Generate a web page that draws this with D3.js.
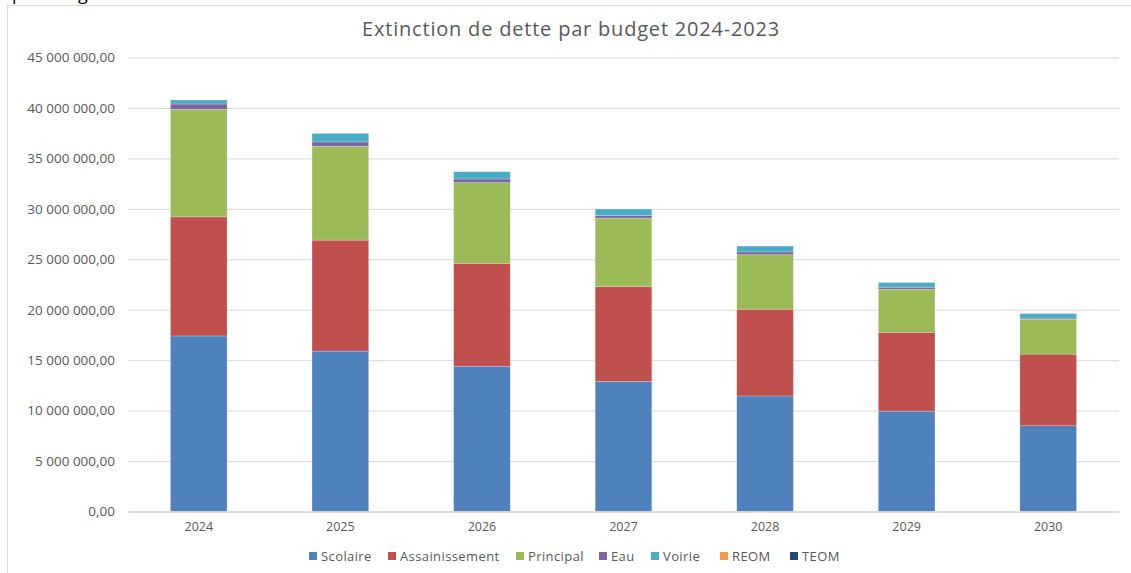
<!DOCTYPE html>
<html>
<head>
<meta charset="utf-8">
<script src="https://cdn.jsdelivr.net/npm/d3@7"></script>
<style>
  html, body { margin: 0; padding: 0; background: #fff; }
  svg { display: block; }
  text { font-family: "Open Sans", "Noto Sans", sans-serif; }
</style>
</head>
<body>
<svg id="chart" width="1131" height="573"></svg>
<script>
// Years on the category axis
const years = ["2024", "2025", "2026", "2027", "2028", "2029", "2030"];

// Budget names, in stacking order
const budgets = ["Scolaire", "Assainissement", "Principal", "Eau", "Voirie", "REOM", "TEOM"];
const budgetColors = ["#4F81BD", "#C0504D", "#9BBB59", "#8064A2", "#4BACC6", "#F79646", "#1F497D"];

// Outstanding debt per budget and year (euros)
const scolaire       = [17400000, 15900000, 14400000, 12900000, 11450000, 9950000, 8500000];
const assainissement = [11800000, 11000000, 10200000, 9400000, 8600000, 7810000, 7100000];
const principal      = [10660000, 9300000, 8000000, 6780000, 5400000, 4270000, 3450000];
const eau            = [530000, 430000, 360000, 250000, 280000, 200000, 120000];
const voirie         = [400000, 850000, 720000, 650000, 580000, 460000, 450000];
const reom           = [0, 0, 0, 0, 0, 0, 0];
const teom           = [0, 0, 0, 0, 0, 0, 0];

// Value axis ticks
const yTicks = [0, 5000000, 10000000, 15000000, 20000000, 25000000, 30000000, 35000000, 40000000, 45000000];

const title = "Extinction de dette par budget 2024-2023";

const seriesValues = [scolaire, assainissement, principal, eau, voirie, reom, teom];
const rows = years.map((y, i) => {
  const r = { year: y };
  budgets.forEach((b, k) => { r[b] = seriesValues[k][i]; });
  return r;
});

const svg = d3.select("#chart");
const W = 1131, H = 573;

// Line of surrounding document text, running just above the chart frame
svg.append("text")
  .attr("x", 12).attr("y", -0.5)
  .attr("font-family", "Liberation Sans, Arial, sans-serif")
  .attr("font-size", 18)
  .attr("fill", "#000")
  .text("par budget");

// Chart frame
svg.append("rect")
  .attr("x", 7.5).attr("y", 5.5)
  .attr("width", W + 20).attr("height", H + 20)
  .attr("fill", "#fff")
  .attr("stroke", "#D9D9D9").attr("stroke-width", 1);

const plot = { left: 128, right: 1119, top: 57.5, bottom: 511.5 };

const x = d3.scaleBand()
  .domain(years)
  .range([plot.left, plot.right])
  .paddingInner(0.6)
  .paddingOuter(0.3);

const y = d3.scaleLinear()
  .domain([0, 45000000])
  .range([plot.bottom, plot.top]);

const fr = d3.formatLocale({ decimal: ",", thousands: "\u00a0", grouping: [3], currency: ["", " €"] });
const fmt = fr.format(",.2f");

// Gridlines and value labels
const yAxis = d3.axisLeft(y)
  .tickValues(yTicks)
  .tickSize(-(plot.right - plot.left))
  .tickPadding(13)
  .tickFormat(fmt);

const gy = svg.append("g")
  .attr("transform", `translate(${plot.left},0)`)
  .call(yAxis);
gy.select(".domain").remove();
gy.selectAll(".tick line").attr("stroke", "#D9D9D9").attr("stroke-width", 1);
gy.selectAll(".tick text")
  .attr("fill", "#595959")
  .attr("font-size", 13.5)
  .attr("font-family", "Open Sans, sans-serif");

// Stacked bars
const stack = d3.stack().keys(budgets);
const layers = stack(rows);

svg.append("g").selectAll("g")
  .data(layers)
  .join("g")
    .attr("fill", (d, i) => budgetColors[i])
  .selectAll("rect")
  .data(d => d)
  .join("rect")
    .attr("x", d => x(d.data.year))
    .attr("width", x.bandwidth())
    .attr("y", d => y(d[1]))
    .attr("height", d => Math.max(0, y(d[0]) - y(d[1])))
    .attr("stroke", "rgba(255,255,255,0.35)")
    .attr("stroke-width", 0.6);

// Category axis
const xAxis = d3.axisBottom(x).tickSize(0).tickPadding(11);
const gx = svg.append("g")
  .attr("transform", `translate(0,${plot.bottom})`)
  .call(xAxis);
gx.select(".domain").attr("stroke", "#D9D9D9").attr("stroke-width", 1.5);
gx.selectAll(".tick text")
  .attr("fill", "#595959")
  .attr("font-size", 12.5)
  .attr("font-family", "Open Sans, sans-serif");

// Title
svg.append("text")
  .attr("x", 571).attr("y", 36)
  .attr("text-anchor", "middle")
  .attr("fill", "#595959")
  .attr("font-size", 20)
  .attr("letter-spacing", 0.8)
  .attr("font-family", "Open Sans, sans-serif")
  .text(title);

// Legend
const legend = svg.append("g").attr("transform", "translate(0,556)");
const legendX = [309, 388, 516, 599, 651, 720, 790];
const items = legend.selectAll("g")
  .data(budgets)
  .join("g")
    .attr("transform", (d, i) => `translate(${legendX[i]},0)`);
items.append("rect")
  .attr("x", 0).attr("y", -4)
  .attr("width", 8).attr("height", 8)
  .attr("fill", (d, i) => budgetColors[i]);
items.append("text")
  .attr("x", 12).attr("y", 4.5)
  .attr("fill", "#595959")
  .attr("font-size", 13)
  .attr("letter-spacing", 0.4)
  .attr("font-family", "Open Sans, sans-serif")
  .text(d => d);
</script>
</body>
</html>
